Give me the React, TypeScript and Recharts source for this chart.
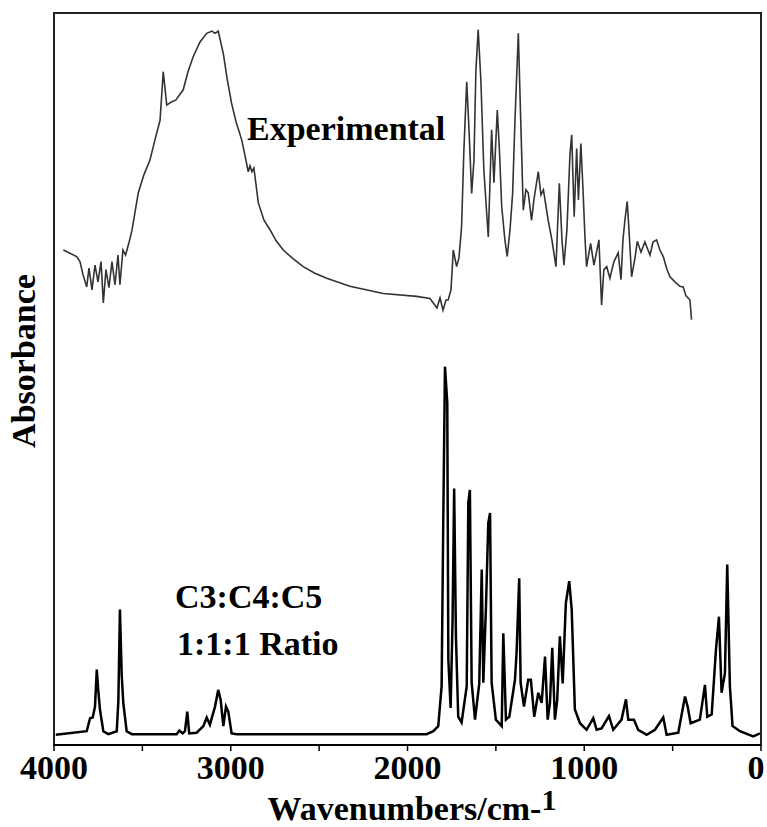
import { LineChart, Line, XAxis, YAxis, ReferenceArea, Customized } from 'recharts';

// experimental FTIR trace (wavenumber cm-1, absorbance in arbitrary units)
const expWavenumbers = [
    3947, 3872, 3853, 3836, 3815, 3802, 3785, 3768, 3751, 3734, 3721, 3706, 3689, 3672, 3655, 3638,
    3627, 3610, 3595, 3575, 3559, 3523, 3491, 3457, 3429, 3400, 3382, 3362, 3338, 3310, 3269, 3242,
    3212, 3174, 3136, 3106, 3089, 3071, 3042, 3021, 2995, 2970, 2938, 2920, 2901, 2891, 2880, 2869,
    2844, 2812, 2778, 2744, 2703, 2648, 2590, 2524, 2457, 2326, 2137, 1948, 1873, 1833, 1816, 1799,
    1782, 1770, 1754, 1741, 1722, 1709, 1694, 1681, 1665, 1652, 1637, 1624, 1613, 1600, 1585, 1568,
    1543, 1524, 1511, 1492, 1480, 1467, 1449, 1436, 1420, 1405, 1392, 1373, 1361, 1345, 1330, 1317,
    1298, 1285, 1260, 1245, 1231, 1204, 1183, 1160, 1141, 1126, 1115, 1098, 1081, 1071, 1057, 1043,
    1033, 1019, 1007, 996, 987, 964, 945, 917, 902, 889, 873, 855, 832, 808, 792, 781,
    770, 757, 747, 732, 713, 700, 679, 657, 628, 611, 591, 572, 553, 532, 515, 487,
    459, 440, 425, 402, 393,
];
const expAbsorbance = [
    67.3, 66.4, 65.7, 63.9, 62.2, 64.8, 61.8, 65.2, 62.9, 65.7, 60.0, 64.6, 62.1, 65.7, 62.5, 66.6,
    62.5, 67.3, 66.6, 68.4, 70.0, 75.2, 77.7, 79.7, 82.5, 85.2, 91.9, 87.3, 87.7, 88.0, 89.4, 91.9,
    94.0, 96.0, 97.2, 97.5, 97.2, 97.5, 94.4, 91.0, 87.5, 85.0, 82.5, 80.4, 78.1, 78.9, 78.1, 78.6,
    73.8, 71.4, 70.1, 68.6, 67.3, 66.1, 65.0, 64.1, 63.4, 62.3, 61.3, 60.9, 60.6, 59.3, 60.7, 59.0,
    60.4, 60.4, 61.8, 67.3, 65.0, 66.2, 70.5, 81.1, 90.5, 83.9, 75.1, 79.7, 92.1, 97.7, 90.8, 78.3,
    69.1, 83.9, 76.6, 86.6, 81.1, 73.3, 68.7, 66.4, 70.1, 75.2, 85.2, 97.2, 86.6, 72.8, 75.6, 75.2,
    71.4, 74.2, 78.1, 74.9, 75.6, 71.4, 68.7, 65.0, 76.5, 68.7, 65.2, 70.1, 80.4, 83.2, 71.9, 81.3,
    74.2, 82.0, 75.6, 69.1, 65.0, 68.2, 65.2, 68.7, 59.7, 64.6, 65.0, 63.4, 65.7, 66.9, 63.2, 68.7,
    71.4, 74.0, 70.1, 63.6, 66.2, 68.5, 67.0, 68.4, 66.6, 68.4, 68.7, 67.3, 66.4, 64.6, 63.6, 62.9,
    62.3, 62.2, 61.0, 60.4, 57.7,
];

// calculated spectrum, C3:C4:C5 1:1:1
const calcWavenumbers = [
    3990, 3815, 3796, 3781, 3768, 3758, 3749, 3740, 3721, 3693, 3645, 3636, 3627, 3617, 3608, 3589,
    3560, 3306, 3291, 3272, 3259, 3246, 3235, 3193, 3155, 3136, 3118, 3089, 3071, 3057, 3042, 3027,
    3014, 2995, 2965, 1892, 1854, 1826, 1807, 1798, 1788, 1775, 1769, 1756, 1745, 1736, 1726, 1713,
    1694, 1665, 1656, 1647, 1637, 1618, 1594, 1580, 1571, 1556, 1543, 1533, 1524, 1500, 1467, 1458,
    1443, 1424, 1392, 1383, 1368, 1360, 1341, 1317, 1302, 1283, 1260, 1241, 1222, 1207, 1194, 1181,
    1166, 1153, 1138, 1122, 1104, 1085, 1071, 1053, 1024, 987, 949, 930, 902, 860, 836, 789,
    764, 751, 719, 695, 647, 600, 553, 534, 468, 430, 415, 398, 346, 317, 304, 279,
    255, 238, 223, 204, 191, 176, 161, 119, 44, 6,
];
const calcAbsorbance = [
    0.4, 0.9, 2.7, 2.8, 4.3, 9.4, 6.4, 3.9, 0.9, 0.5, 0.9, 5.0, 17.7, 8.7, 4.8, 0.9,
    0.5, 0.5, 1.0, 0.6, 0.9, 3.6, 0.6, 0.7, 1.6, 2.8, 1.8, 4.3, 6.6, 5.2, 1.6, 4.3,
    3.6, 0.6, 0.5, 0.5, 0.9, 1.6, 7.1, 29.1, 51.2, 46.2, 10.8, 4.1, 16.3, 34.4, 14.0, 2.9,
    2.1, 7.1, 32.4, 34.2, 7.6, 2.5, 7.5, 23.2, 7.6, 18.1, 29.6, 31.0, 7.6, 2.5, 1.6, 14.4,
    2.5, 2.9, 8.0, 11.7, 22.0, 7.6, 4.3, 8.0, 8.0, 2.9, 6.2, 4.8, 11.2, 2.5, 4.8, 12.4,
    2.5, 5.2, 14.0, 7.5, 18.6, 21.6, 17.7, 3.9, 2.0, 1.1, 2.7, 1.1, 1.3, 3.0, 1.1, 2.5,
    5.3, 2.5, 2.5, 1.1, 0.4, 1.1, 2.8, 0.4, 0.7, 5.7, 4.3, 2.0, 2.5, 7.3, 2.9, 3.2,
    12.1, 16.7, 6.2, 8.9, 23.9, 7.1, 1.6, 0.9, 0.2, 0.6,
];

const xTicks = [4000, 3500, 3000, 2500, 2000, 1500, 1000, 500, 0];

const experimental = expWavenumbers.map((w, i) => ({ w, a: expAbsorbance[i] }));
const calculated = calcWavenumbers.map((w, i) => ({ w, a: calcAbsorbance[i] }));

const SERIF = '"Liberation Serif", "Times New Roman", serif';
const textStyle = { fontFamily: SERIF, fontWeight: 'bold', fill: '#000' } as const;

const XTick = (props: any) => {
    const { x, y, payload } = props;
    if (payload.value % 1000 !== 0) return null;
    const dx = payload.value === 0 ? -5 : 0;
    return (
        <text x={x + dx} y={y} dy="0.71em" textAnchor="middle" fontSize={34} {...textStyle}>
            {payload.value}
        </text>
    );
};

const Annotations = () => (
    <g>
        <text x={247} y={140} fontSize={34} {...textStyle}>Experimental</text>
        <text x={175} y={608} fontSize={34} {...textStyle}>C3:C4:C5</text>
        <text x={177} y={655} fontSize={34} {...textStyle}>1:1:1 Ratio</text>
        <text x={412} y={820} textAnchor="middle" fontSize={34} {...textStyle}>
            Wavenumbers/cm-<tspan dy={-10} fontSize={30}>1</tspan>
        </text>
        <text x={35} y={361} transform="rotate(-90, 35, 361)" textAnchor="middle" fontSize={34} {...textStyle}>
            Absorbance
        </text>
    </g>
);

const App = () => (
    <div style={{ position: 'absolute', left: 0, top: 0, background: '#fff' }}>
        <LineChart width={767} height={827} margin={{ top: 13, right: 6, left: 54, bottom: 0 }}>
            <XAxis
                dataKey="w"
                type="number"
                domain={[0, 4000]}
                reversed
                ticks={xTicks}
                interval={0}
                allowDataOverflow
                height={82}
                tickSize={6}
                tickMargin={4}
                tick={<XTick />}
                axisLine={{ stroke: '#000', strokeWidth: 2 }}
                tickLine={{ stroke: '#000', strokeWidth: 1.5 }}
            />
            <YAxis type="number" domain={[-1, 100]} hide width={0} allowDataOverflow />
            <ReferenceArea x1={0} x2={4000} y1={-1} y2={100} fill="none" stroke="#222" strokeWidth={2} ifOverflow="visible" />
            <Line data={experimental} dataKey="a" type="linear" stroke="#333" strokeWidth={1.6} dot={false} isAnimationActive={false} />
            <Line data={calculated} dataKey="a" type="linear" stroke="#000" strokeWidth={2.5} dot={false} isAnimationActive={false} />
            <Customized component={Annotations} />
        </LineChart>
    </div>
);

export default App;
